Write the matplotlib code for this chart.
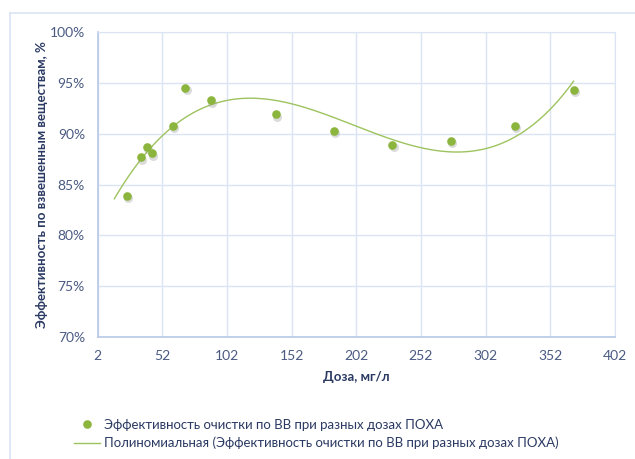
import numpy as np
import matplotlib.pyplot as plt
from matplotlib.lines import Line2D
from matplotlib.ticker import FuncFormatter

plt.rcParams['font.family'] = ['Lato', 'DejaVu Sans']

# data
doza = [25, 35.6, 40.3, 44, 60, 70, 90, 140, 185, 230, 275, 325, 370]
eff = [83.9, 87.7, 88.7, 88.1, 90.8, 94.5, 93.3, 91.9, 90.3, 88.9, 89.3, 90.8, 94.3]
xticks = [2, 52, 102, 152, 202, 252, 302, 352, 402]
yticks = [70, 75, 80, 85, 90, 95, 100]

tick_col = '#4a5a82'
grid_col = '#dae4f3'
green = '#8cb53e'

fig = plt.figure(figsize=(6.35, 4.59), dpi=100)
ax = fig.add_axes([97.5/635, 1-337/459, 517.5/635, 305/459])

# polynomial trendline (3rd order), backward forecast ~10
coef = np.polyfit(doza, eff, 3)
xt = np.linspace(15, doza[-1], 200)
ax.plot(xt, np.polyval(coef, xt), color='#9dc35e', lw=1.0, zorder=3,
        label='Полиномиальная (Эффективность очистки по ВВ при разных дозах ПОХА)')

# shadow then points
ax.plot(np.array(doza)+0.8, np.array(eff)-0.25, 'o', ms=6.5, color='#9a9a9a', alpha=0.35,
        mew=0, zorder=4)
ax.plot(doza, eff, 'o', ms=6.2, color=green, mew=0, zorder=5,
        label='Эффективность очистки по ВВ при разных дозах ПОХА')

ax.set_xlim(2, 402)
ax.set_ylim(70, 100)
ax.set_xticks(xticks)
ax.set_yticks(yticks)
ax.yaxis.set_major_formatter(FuncFormatter(lambda v, p: '%d%%' % v))
ax.grid(True, color=grid_col, lw=1.0)
ax.set_axisbelow(True)
for s in ['top', 'right']:
    ax.spines[s].set_color(grid_col)
for s in ['left', 'bottom']:
    ax.spines[s].set_color('#b7c9e6')
    ax.spines[s].set_linewidth(1.2)
ax.tick_params(length=0, labelsize=10, colors=tick_col, pad=9)

ax.set_xlabel('Доза, мг/л', fontsize=9.5, fontweight='bold', color='#2b3a63', labelpad=7)
ax.set_ylabel('Эффективность по взвешенным веществам, %', fontsize=9.5,
              fontweight='bold', color='#2b3a63', labelpad=1)

h, l = ax.get_legend_handles_labels()
fig.legend([h[1], h[0]], [l[1], l[0]], loc='upper left',
           bbox_to_anchor=(62/635, 1-407/459),
           frameon=False, fontsize=9.5, labelcolor='#2b3a63', handlelength=2.0,
           handletextpad=0.3, labelspacing=0.45)

# outer chart frame
fig.add_artist(Line2D([10/635, 10/635], [0, 1-13/459], color=grid_col, lw=1.2))
fig.add_artist(Line2D([10/635, 1], [1-13/459, 1-13/459], color=grid_col, lw=1.2))

fig.savefig('out.png', dpi=100)
